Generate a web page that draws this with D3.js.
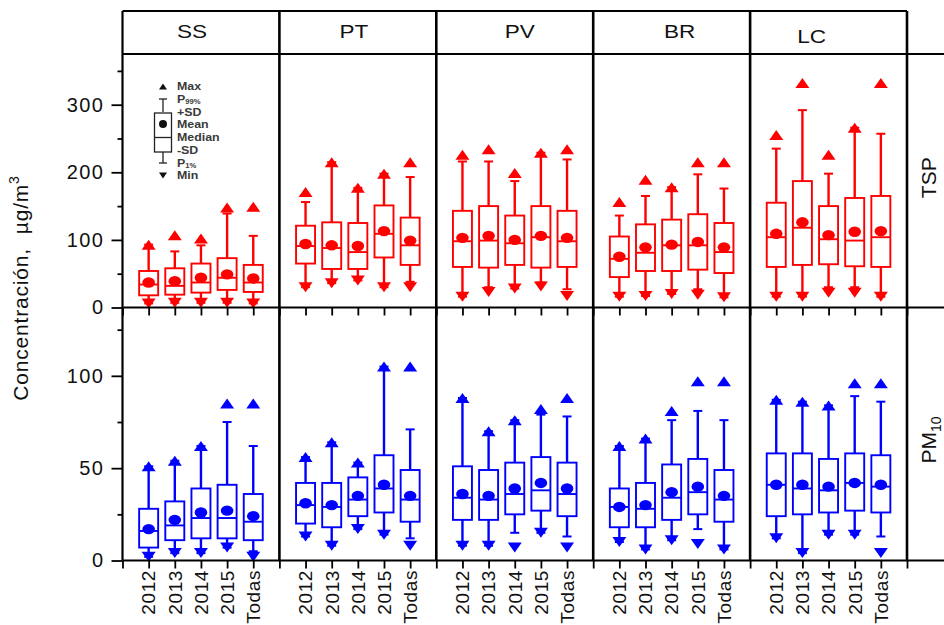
<!DOCTYPE html>
<html>
<head>
<meta charset="utf-8">
<script src="https://cdn.jsdelivr.net/npm/d3@7"></script>
<style>
  body { margin: 0; background: #fff; }
  svg { display: block; font-family: "Liberation Sans", Arial, sans-serif; }
</style>
</head>
<body>
<svg id="chart" width="944" height="625"></svg>
<script>
const sites = ['SS', 'PT', 'PV', 'BR', 'LC']
const years = ['2012', '2013', '2014', '2015', 'Todas']

const tspTicks = [0, 100, 200, 300]
const tspMinor = [50, 150, 250, 350]
const pmTicks = [0, 50, 100]
const pmMinor = [25, 75, 125]

// TSP, one row per site, one value per year
const tspMax = [[93, 107, 102, 148, 149], [171, 215, 177, 198, 215], [226, 234, 199, 229, 234], [156, 189, 178, 215, 215], [255, 332, 226, 266, 332]]
const tspP99 = [[93, 83, 92, 139, 106], [156, 215, 177, 198, 193], [216, 216, 187, 229, 219], [136, 165, 178, 197, 176], [235, 292, 198, 266, 257]]
const tspUp = [[54, 58, 65, 73, 63], [121, 126, 125, 151, 133], [143, 150, 136, 150, 143], [105, 123, 130, 138, 125], [155, 187, 150, 162, 165]]
const tspMean = [[37, 39, 44, 49, 43], [94, 92, 91, 113, 99], [103, 106, 100, 106, 103], [75, 89, 93, 97, 89], [109, 126, 107, 112, 113]]
const tspMedian = [[34, 32, 37, 44, 37], [91, 88, 82, 109, 92], [98, 99, 95, 104, 98], [72, 81, 92, 92, 82], [104, 118, 101, 99, 104]]
const tspLow = [[18, 19, 22, 26, 23], [65, 57, 57, 74, 63], [60, 59, 63, 59, 60], [45, 54, 54, 56, 51], [60, 63, 64, 61, 60]]
const tspP1 = [[6, 7, 7, 7, 6], [30, 36, 40, 30, 38], [16, 30, 28, 37, 27], [16, 17, 20, 27, 15], [16, 16, 30, 30, 16]]
const tspMin = [[6, 7, 7, 7, 6], [30, 36, 40, 30, 30], [16, 23, 28, 31, 17], [16, 17, 20, 19, 15], [16, 16, 22, 22, 16]]

// PM10
const pmMax = [[51, 54, 62, 85, 85], [56, 64, 53, 105, 105], [88, 70, 76, 82, 88], [62, 66, 81, 97, 97], [87, 86, 84, 96, 96]]
const pmP99 = [[51, 54, 62, 75, 62], [56, 64, 53, 105, 71], [88, 70, 76, 79, 78], [62, 66, 76, 81, 76], [87, 86, 84, 89, 86]]
const pmUp = [[28, 32, 39, 41, 36], [42, 42, 45, 57, 49], [51, 49, 53, 56, 53], [39, 42, 52, 55, 49], [58, 58, 55, 58, 57]]
const pmMean = [[17, 22, 26, 27, 24], [31, 30, 35, 41, 35], [36, 35, 39, 42, 39], [29, 30, 37, 40, 35], [41, 41, 40, 42, 41]]
const pmMedian = [[16, 19, 23, 23, 21], [30, 29, 33, 39, 33], [34, 33, 36, 38, 36], [29, 28, 34, 37, 33], [41, 39, 38, 42, 40]]
const pmLow = [[7, 11, 12, 12, 11], [20, 18, 24, 26, 21], [22, 22, 25, 27, 24], [18, 18, 22, 25, 21], [24, 25, 26, 27, 26]]
const pmP1 = [[2, 4, 4, 7, 5], [13, 8, 17, 14, 12], [8, 8, 15, 15, 13], [10, 6, 11, 17, 6], [12, 4, 14, 14, 13]]
const pmMin = [[2, 4, 4, 7, 2], [13, 8, 17, 14, 8], [8, 8, 7, 15, 7], [10, 6, 11, 9, 6], [12, 4, 14, 14, 4]]

const legendLabels = ['Max', 'P99%', '+SD', 'Mean', 'Median', '-SD', 'P1%', 'Min']

const svg = d3.select('#chart')
const left = 122.5, right = 907, headTop = 11, plotTop = 54, mid = 307.5, bottom = 560.5

const x = d3.scaleLinear().domain([0, 30]).range([left, right])
const yTSP = d3.scaleLinear().domain([0, 375]).range([mid, plotTop])
const yPM = d3.scaleLinear().domain([0, 137]).range([bottom, mid])

const panels = [
  {label: 'TSP', sub: '', color: '#ff0000', y: yTSP, ticks: tspTicks, minor: tspMinor,
   max: tspMax, p99: tspP99, up: tspUp, mean: tspMean, median: tspMedian, low: tspLow, p1: tspP1, min: tspMin},
  {label: 'PM', sub: '10', color: '#0000ff', y: yPM, ticks: pmTicks, minor: pmMinor,
   max: pmMax, p99: pmP99, up: pmUp, mean: pmMean, median: pmMedian, low: pmLow, p1: pmP1, min: pmMin}
]

function triUp(cx, cy, w, h) { return `M${cx - w / 2},${cy + h / 2}L${cx + w / 2},${cy + h / 2}L${cx},${cy - h / 2}Z` }
function triDown(cx, cy, w, h) { return `M${cx - w / 2},${cy - h / 2}L${cx + w / 2},${cy - h / 2}L${cx},${cy + h / 2}Z` }

const boxW = 19, capW = 9

// boxes
panels.forEach(p => {
  const g = svg.append('g').attr('class', 'boxes-' + p.label)
  sites.forEach((s, i) => {
    years.forEach((yr, j) => {
      const cx = x(6 * i + j + 1)
      const y = p.y
      const b = g.append('g').attr('stroke', p.color).attr('fill', p.color)
      b.append('line').attr('x1', cx).attr('x2', cx).attr('y1', y(p.up[i][j])).attr('y2', y(p.p99[i][j])).attr('stroke-width', 2.4)
      b.append('line').attr('x1', cx).attr('x2', cx).attr('y1', y(p.low[i][j])).attr('y2', y(p.p1[i][j])).attr('stroke-width', 2.4)
      b.append('line').attr('x1', cx - capW / 2).attr('x2', cx + capW / 2).attr('y1', y(p.p99[i][j])).attr('y2', y(p.p99[i][j])).attr('stroke-width', 2)
      b.append('line').attr('x1', cx - capW / 2).attr('x2', cx + capW / 2).attr('y1', y(p.p1[i][j])).attr('y2', y(p.p1[i][j])).attr('stroke-width', 2)
      b.append('rect').attr('x', cx - boxW / 2).attr('width', boxW)
        .attr('y', y(p.up[i][j])).attr('height', y(p.low[i][j]) - y(p.up[i][j]))
        .attr('fill', 'none').attr('stroke-width', 1.9)
      b.append('line').attr('x1', cx - boxW / 2).attr('x2', cx + boxW / 2).attr('y1', y(p.median[i][j])).attr('y2', y(p.median[i][j])).attr('stroke-width', 1.9)
      b.append('ellipse').attr('cx', cx).attr('cy', y(p.mean[i][j])).attr('rx', 6.3).attr('ry', 5.2).attr('stroke', 'none')
      b.append('path').attr('d', triUp(cx, y(p.max[i][j]), 14, 10)).attr('stroke', 'none')
      b.append('path').attr('d', triDown(cx, y(p.min[i][j]), 14, 10)).attr('stroke', 'none')
    })
  })
})

// axes
panels.forEach(p => {
  const ax = svg.append('g').attr('transform', `translate(${left},0)`)
    .call(d3.axisLeft(p.y).tickValues(p.ticks).tickSize(11).tickPadding(7).tickFormat(d3.format('d')))
  ax.select('.domain').remove()
  ax.selectAll('line').attr('stroke', '#000').attr('stroke-width', 1.8)
  ax.selectAll('text').attr('font-size', 20).attr('letter-spacing', 1.5).attr('fill', '#111')
  const mn = svg.append('g').attr('transform', `translate(${left},0)`)
    .call(d3.axisLeft(p.y).tickValues(p.minor).tickSize(5).tickFormat(''))
  mn.select('.domain').remove()
  mn.selectAll('line').attr('stroke', '#000').attr('stroke-width', 1.8)
})

;[mid, bottom].forEach(yy => {
  const ax = svg.append('g').attr('transform', `translate(0,${yy})`)
    .call(d3.axisBottom(x).tickValues(d3.range(0, 31)).tickSize(8).tickFormat(''))
  ax.select('.domain').remove()
  ax.selectAll('line').attr('stroke', '#000').attr('stroke-width', 1.8)
})

// frame
const frame = svg.append('g').attr('stroke', '#000').attr('fill', 'none')
frame.append('line').attr('x1', left).attr('x2', left).attr('y1', headTop).attr('y2', bottom).attr('stroke-width', 2.2)
frame.append('line').attr('x1', left).attr('x2', right).attr('y1', headTop).attr('y2', headTop).attr('stroke-width', 2.2)
;[plotTop, mid, bottom].forEach(yy => {
  frame.append('line').attr('x1', left).attr('x2', 944).attr('y1', yy).attr('y2', yy).attr('stroke-width', 2.2)
})
d3.range(1, 6).forEach(k => {
  frame.append('line').attr('x1', x(6 * k)).attr('x2', x(6 * k)).attr('y1', headTop).attr('y2', bottom).attr('stroke-width', 2.6)
})

// header labels
const headNudge = [-9, -4, 5, 8, -17]
sites.forEach((s, i) => {
  const cx = (x(6 * i) + x(6 * i + 6)) / 2 + headNudge[i]
  svg.append('text').attr('transform', `translate(${cx},${i === 4 ? 43 : 38}) scale(1.22,1)`)
    .attr('text-anchor', 'middle').attr('font-size', 18.5).attr('fill', '#111').text(s)
})

// year labels
sites.forEach((s, i) => {
  years.forEach((yr, j) => {
    svg.append('text')
      .attr('transform', `translate(${x(6 * i + j + 1)},570) rotate(-90)`)
      .attr('text-anchor', 'end').attr('dy', '0.36em')
      .attr('font-size', 19).attr('letter-spacing', 0.6).attr('fill', '#111').text(yr)
  })
})

// right labels
panels.forEach(p => {
  const cy = (p.y.range()[0] + p.y.range()[1]) / 2 + (p.sub ? 6 : -3)
  const t = svg.append('text').attr('transform', `translate(936,${cy}) rotate(-90)`)
    .attr('text-anchor', 'middle').attr('font-size', 21).attr('fill', '#111')
  t.append('tspan').text(p.label)
  if (p.sub) t.append('tspan').attr('font-size', 14).attr('dy', 5).text(p.sub)
})

// y title
const yt = svg.append('text').attr('transform', 'translate(28,288) rotate(-90)')
  .attr('text-anchor', 'middle').attr('font-size', 21).attr('letter-spacing', 0.8).attr('fill', '#111')
yt.append('tspan').text('Concentración,')
yt.append('tspan').attr('dx', 14).text('µg/m')
yt.append('tspan').attr('font-size', 14).attr('dy', -9).text('3')

// legend
const lg = svg.append('g').attr('class', 'legend')
const lx = 163, ltx = 177
const ly = [86.5, 99, 112, 124, 137.5, 150, 163, 175.5]
lg.append('path').attr('d', triUp(lx, ly[0], 8, 6)).attr('fill', '#111')
lg.append('path').attr('d', triDown(lx, ly[7], 8, 6)).attr('fill', '#111')
lg.append('line').attr('x1', lx).attr('x2', lx).attr('y1', ly[1]).attr('y2', ly[2]).attr('stroke', '#222').attr('stroke-width', 1.3)
lg.append('line').attr('x1', lx).attr('x2', lx).attr('y1', ly[5] + 2).attr('y2', ly[6]).attr('stroke', '#222').attr('stroke-width', 1.3)
;[ly[1], ly[6]].forEach(yy => {
  lg.append('line').attr('x1', lx - 4).attr('x2', lx + 4).attr('y1', yy).attr('y2', yy).attr('stroke', '#222').attr('stroke-width', 1.3)
})
lg.append('rect').attr('x', lx - 8.5).attr('y', ly[2] + 1).attr('width', 17).attr('height', ly[5] + 2 - ly[2] - 1)
  .attr('fill', 'none').attr('stroke', '#222').attr('stroke-width', 1.3)
lg.append('line').attr('x1', lx - 8.5).attr('x2', lx + 8.5).attr('y1', ly[4]).attr('y2', ly[4]).attr('stroke', '#222').attr('stroke-width', 1.3)
lg.append('circle').attr('cx', lx).attr('cy', ly[3]).attr('r', 4).attr('fill', '#111')
legendLabels.forEach((l, k) => {
  const t = lg.append('text').attr('transform', `translate(${ltx},${ly[k]}) scale(1.18,1)`).attr('dy', '0.35em')
    .attr('font-size', 10.5).attr('font-weight', 'bold').attr('fill', '#3a3a3a')
  const m = l.match(/^P(\d+%)$/)
  if (m) {
    t.append('tspan').text('P')
    t.append('tspan').attr('font-size', 6.5).attr('dy', 1).text(m[1])
  } else {
    t.text(l)
  }
})
</script>
</body>
</html>
